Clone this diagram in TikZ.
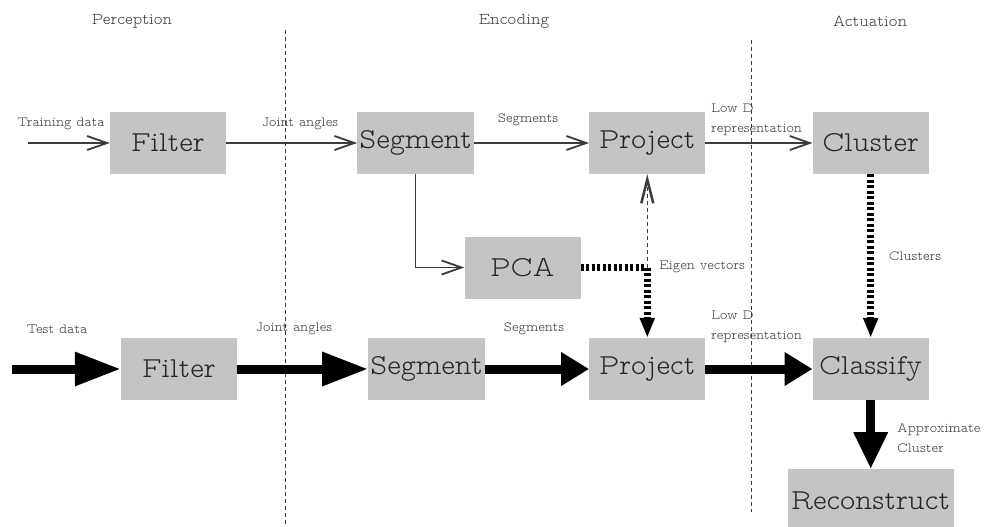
\documentclass[tikz,border=0pt]{standalone}
\usepackage{fontspec}
\usepackage{tikz}
\usetikzlibrary{arrows.meta}
\usetikzlibrary{positioning}

\newfontfamily\vttfont{Latin Modern Mono Prop Light}
\definecolor{boxgray}{RGB}{196,196,196}
\definecolor{inkgray}{RGB}{60,60,60}
\newcommand{\boxfont}{\vttfont\fontsize{29}{30}\selectfont}
\newcommand{\lblfont}{\vttfont\fontsize{14}{20}\selectfont}
\newcommand{\ttlfont}{\vttfont\fontsize{16.5}{18}\selectfont}

\begin{document}
\begin{tikzpicture}[x=1pt, y=-1pt,
    box/.style={fill=boxgray, minimum width=116pt, minimum height=62pt, inner xsep=2pt, font=\boxfont, text=black!85},
    lbl/.style={font=\lblfont, text=inkgray, inner sep=1pt},
    ttl/.style={font=\ttlfont, text=inkgray},
    flowthin/.style={draw=inkgray, line width=1.1pt, -{Straight Barb[length=20pt, width=14pt, line width=1.8pt]}},
    flowfat/.style={draw=black, line width=9pt},
    fatdash/.style={draw=black, line width=7pt, dash pattern=on 3pt off 2.5pt},
    thindash/.style={draw=inkgray, line width=1pt, dash pattern=on 4pt off 3pt},
    divider/.style={draw=inkgray, line width=0.9pt, dash pattern=on 4pt off 3pt}]
    \useasboundingbox (0,0) rectangle (988,527);

    % column titles and dividers
    \node[ttl] (tPer) at (132,21) {Perception};
    \node[ttl] (tEnc) at (514,21) {Encoding};
    \node[ttl] (tAct) at (870,21) {Actuation};
    \coordinate (d1t) at (285,30);
    \coordinate (d1b) at (285,527);
    \coordinate (d2t) at (751,40);
    \coordinate (d2b) at (751,512);
    \draw[divider] (d1t) -- (d1b);
    \draw[divider] (d2t) -- (d2b);

    % training row
    \node[box] (filtA) at (168,143) {Filter};
    \node[box, right=131pt of filtA] (segA) {Segment};
    \node[box, right=115pt of segA] (pjA) {Project};
    \node[box, right=107pt of pjA] (clA) {Cluster};
    \node[box] (pca) at (522.5,267.5) {PCA};

    % test row
    \node[box] (filtB) at (179,369) {Filter};
    \node[box, right=131pt of filtB] (segB) {Segment};
    \node[box, right=104pt of segB] (pjB) {Project};
    \node[box, right=107pt of pjB] (clsB) {Classify};
    \node[box, minimum width=166pt, below=69pt of clsB] (recB) {Reconstruct};

    % labels
    \node[lbl] (lTrain) at (61,124) {Training data};
    \node[lbl] (lJointA) at (300,124) {Joint angles};
    \node[lbl] (lSegA) at (528,120) {Segments};
    \node[lbl, align=left, anchor=west] (lLowA) at (710,119.5) {Low D\\representation};
    \node[lbl] (lEig) at (702,267) {Eigen vectors};
    \node[lbl] (lClu) at (915,256) {Clusters};
    \node[lbl] (lTest) at (57,329) {Test data};
    \node[lbl] (lJointB) at (294,329) {Joint angles};
    \node[lbl] (lSegB) at (534,329) {Segments};
    \node[lbl, align=left, anchor=west] (lLowB) at (710,327) {Low D\\representation};
    \node[lbl, align=left, anchor=west] (lApp) at (896,438) {Approximate\\Cluster};

    % training connectors
    \coordinate (inA) at (28,143);
    \draw[flowthin] (inA) -- (filtA);
    \draw[flowthin] (filtA) -- (segA);
    \draw[flowthin] (segA) -- (pjA);
    \draw[flowthin] (pjA) -- (clA);
    \draw[flowthin] (segA.south) |- (pca.west);

    % eigen vectors and clusters
    \coordinate (eig) at (pjB.north |- pca.east);
    \draw[fatdash] (pca.east) -- (eig);
    \draw[thindash, -{Straight Barb[length=24pt, width=12pt, line width=2.5pt]}] (eig) -- (pjA.south);
    \draw[fatdash, -{Triangle[length=20pt, width=14pt]}] (eig) -- (pjB.north);
    \draw[fatdash, -{Triangle[length=20pt, width=14pt]}] (clA) -- (clsB);

    % test connectors
    \coordinate (inB) at (12,369);
    \draw[flowfat, -{Triangle[length=46pt, width=32pt]}] (inB) -- (filtB);
    \draw[flowfat, -{Triangle[length=46pt, width=32pt]}] (filtB) -- (segB);
    \draw[flowfat, -{Triangle[length=28pt, width=32pt]}] (segB) -- (pjB);
    \draw[flowfat, -{Triangle[length=28pt, width=32pt]}] (pjB) -- (clsB);
    \draw[flowfat, -{Triangle[length=37pt, width=32pt]}] (clsB) -- (recB);
\end{tikzpicture}
\end{document}
